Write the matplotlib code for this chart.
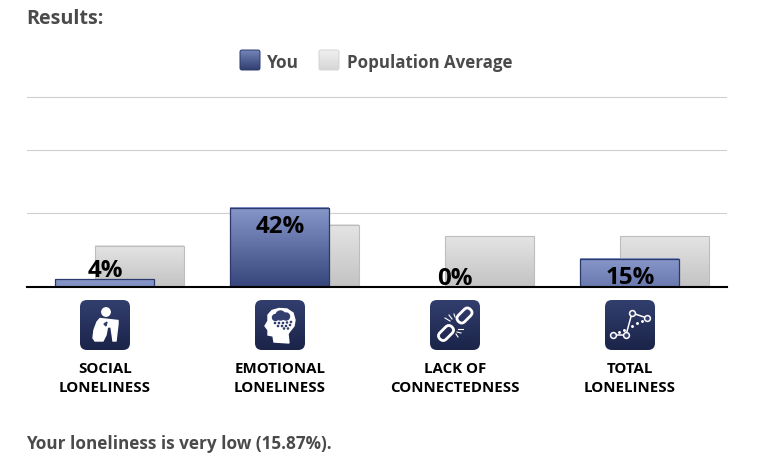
import numpy as np
import matplotlib
matplotlib.use('Agg')
import matplotlib.pyplot as plt
from matplotlib.colors import LinearSegmentedColormap
from matplotlib.patches import Circle, FancyBboxPatch, Polygon
from matplotlib.transforms import Affine2D

categories = ['SOCIAL\nLONELINESS', 'EMOTIONAL\nLONELINESS', 'LACK OF\nCONNECTEDNESS', 'TOTAL\nLONELINESS']
you = [4, 42, 0, 15]
population = [22, 33, 27, 27]
grid_vals = [39.3, 72.8, 101]
series_names = ['You', 'Population Average']

plt.rcParams['font.family'] = ['Open Sans', 'DejaVu Sans']
TEXT = '#4a4a4a'
NAVY_TOP = '#323e6e'
NAVY_BOT = '#1b2449'

you_cmap = LinearSegmentedColormap.from_list('you', ['#8797ca', '#36467c'])
pop_cmap = LinearSegmentedColormap.from_list('pop', ['#e4e4e4', '#c3c3c3'])
icon_cmap = LinearSegmentedColormap.from_list('icon', [NAVY_TOP, NAVY_BOT])
grad = np.linspace(0, 1, 128).reshape(-1, 1)

fig = plt.figure(figsize=(7.66, 4.6), dpi=100)
ax = fig.add_axes([27 / 766, (460 - 288.0) / 460, 699.5 / 766, 197.5 / 460])
x = np.arange(len(categories))

# one category step is 175px, you bar 99px, population bar 89px, offset 35px
pop_bars = ax.bar(x + 0.2, population, width=89 / 175, facecolor='none', edgecolor='#bdbdbd', linewidth=0.8, zorder=2.5)
you_bars = ax.bar(x, you, width=99 / 175, facecolor='none', edgecolor='#2c3a6b', linewidth=0.9, zorder=3.5)

for b in pop_bars:
    ax.imshow(grad, extent=(b.get_x(), b.get_x() + b.get_width(), 0, b.get_height()),
              aspect='auto', cmap=pop_cmap, vmin=0, vmax=1, zorder=2)
for b in you_bars:
    h = b.get_height()
    if h == 0:
        continue
    # the blue gradient spans the tallest bar, short bars only show its top part
    ax.imshow(grad * h / max(you), extent=(b.get_x(), b.get_x() + b.get_width(), 0, h),
              aspect='auto', cmap=you_cmap, vmin=0, vmax=1, zorder=3)

ax.set_xlim(-77.5 / 175, 622 / 175)
ax.set_ylim(0, 105)
ax.set_xticks([])
ax.set_yticks(grid_vals)
ax.set_yticklabels([])
ax.tick_params(length=0)
ax.grid(axis='y', color='#cfcfcf', linewidth=0.8)
ax.set_axisbelow(True)
for s in ['top', 'left', 'right']:
    ax.spines[s].set_visible(False)
ax.spines['bottom'].set_linewidth(1.5)
ax.spines['bottom'].set_color('black')
ax.spines['bottom'].set_zorder(6)

for i, v in enumerate(you):
    off = 6.6 if v < 10 else -13
    ax.annotate('%d%%' % v, (i, v), xytext=(0.4, off), textcoords='offset points',
                ha='center', va='center', fontsize=17.4, fontweight='bold', color='black', zorder=7)

# overlay in pixel coordinates for the page text and icons
ov = fig.add_axes([0, 0, 1, 1], zorder=10)
ov.set_xlim(0, 766)
ov.set_ylim(460, 0)
ov.axis('off')
ov.patch.set_alpha(0)

ov.text(26.5, 19.5, 'Results:', fontsize=14.2, fontweight='bold', color=TEXT, va='center')
ov.text(26.5, 444.3, 'Your loneliness is very low (15.87%).', fontsize=12.3, fontweight='bold', color=TEXT, va='center')


def rounded_gradient(x0, y0, w, h, r, cmap, edge='none'):
    box = FancyBboxPatch((x0 + r, y0 + r), w - 2 * r, h - 2 * r, boxstyle='round,pad=%f,rounding_size=%f' % (r, r),
                         facecolor='none', edgecolor=edge, linewidth=0.7, zorder=3)
    ov.add_patch(box)
    im = ov.imshow(grad, extent=(x0, x0 + w, y0 + h, y0), aspect='auto', cmap=cmap, vmin=0, vmax=1, zorder=2)
    im.set_clip_path(box)


rounded_gradient(240, 51, 20, 20, 2, LinearSegmentedColormap.from_list('s', ['#7585b8', '#2f3d70']), '#2c3a6b')
rounded_gradient(319, 51, 20, 20, 2, LinearSegmentedColormap.from_list('p', ['#f0f0f0', '#d6d6d6']), '#d4d4d4')
ov.text(267, 63, series_names[0], fontsize=12.4, fontweight='bold', color=TEXT, va='center')
ov.text(347, 63, series_names[1], fontsize=12.2, fontweight='bold', color=TEXT, va='center')

for i, c in enumerate(categories):
    ov.text(105 + 175 * i, 378.5, c, fontsize=10.8, fontweight='bold', color='black',
            ha='center', va='center', linespacing=1.45)


def person(x0, y0):
    ov.add_patch(Circle((x0 + 26, y0 + 12), 4.2, color='white', zorder=4))
    pts = [(13, 38), (14, 30), (17, 22), (20, 18.5), (38, 20.5), (38, 24), (36, 41), (33, 41),
           (31, 27), (27.5, 27), (26, 35), (23, 41), (15, 41)]
    ov.add_patch(Polygon([(x0 + u, y0 + v) for u, v in pts], color='white', zorder=4))
    ov.add_patch(Polygon([(x0 + u, y0 + v) for u, v in [(24, 24), (27, 22), (26, 26)]], color=NAVY_TOP, zorder=5))


def brain(x0, y0):
    pts = [(10, 26), (13, 21), (13, 15), (17, 10.5), (24, 8.5), (32, 9), (38, 13), (40, 20), (39, 26), (35, 31),
           (33, 34), (34, 43), (19, 42), (18, 36), (13, 35), (13, 30)]
    ov.add_patch(Polygon([(x0 + u, y0 + v) for u, v in pts], color='white', zorder=4))
    for u, v, r in [(20.5, 17.5, 3), (25.5, 15.5, 4.5), (31, 16.5, 3.5)]:
        ov.add_patch(Circle((x0 + u, y0 + v), r, color=NAVY_TOP, zorder=5))
    for u, v in [(20, 23), (24, 23), (28, 23), (32, 22.5), (36, 22), (23, 26), (27, 26), (31, 26), (35, 25), (29, 28.5), (33, 28.5)]:
        ov.add_patch(Circle((x0 + u, y0 + v), 0.6, color=NAVY_TOP, zorder=5))


def chain(x0, y0):
    for u, v in [(34.5, 15.5), (16, 33)]:
        t = Affine2D().rotate_deg_around(x0 + u, y0 + v, -45) + ov.transData
        ov.add_patch(FancyBboxPatch((x0 + u - 7, y0 + v - 3), 14, 6, boxstyle='round,pad=1.5,rounding_size=4.5',
                                    facecolor='none', edgecolor='white', linewidth=2, transform=t, zorder=4))
    for (u1, v1, u2, v2) in [(15, 18, 20, 21), (19, 15, 22, 19), (24, 14, 25, 17), (27, 32, 31, 33), (28, 29, 33, 29), (26, 34, 28, 37)]:
        ov.plot([x0 + u1, x0 + u2], [y0 + v1, y0 + v2], color='white', lw=0.8, zorder=4)


def network(x0, y0):
    us = [8, 21, 27, 42]
    vs = [35, 35, 13, 18]
    ov.plot([x0 + u for u in us], [y0 + v for v in vs], color='white', lw=1.1, zorder=4)
    ov.plot([x0 + u for u in us], [y0 + v for v in vs], ls='none', marker='o', ms=4.2, mfc=NAVY_TOP, mec='white', mew=1.1, zorder=5)
    ov.plot([x0 + u for u in [14, 19, 27, 32, 37]], [y0 + v for v in [32, 30, 26, 23, 21]], ls='none', marker='o', ms=1.1, color='white', zorder=4)


for i, draw in enumerate([person, brain, chain, network]):
    x0 = 80 + 175 * i
    rounded_gradient(x0, 301, 50, 50, 7, icon_cmap)
    draw(x0, 301)

ov.set_xlim(0, 766)
ov.set_ylim(460, 0)
fig.savefig('out.png', dpi=100)
